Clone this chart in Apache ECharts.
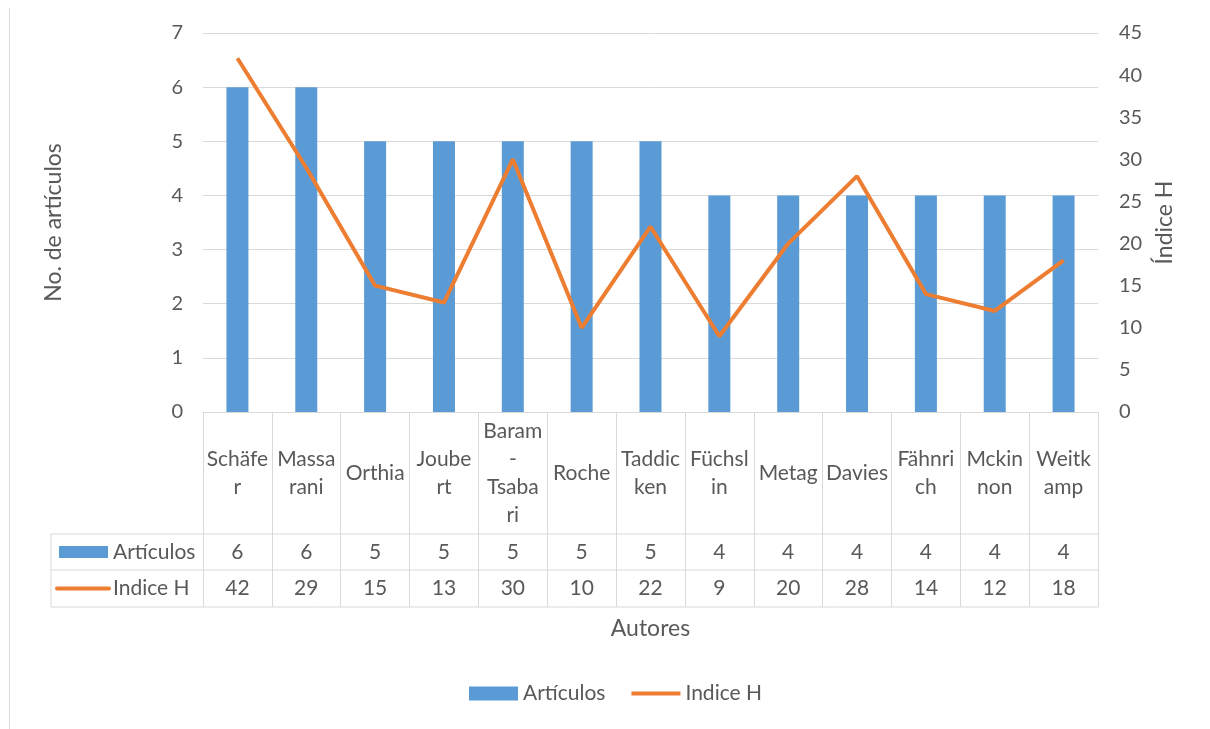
<!DOCTYPE html>
<html>
<head>
<meta charset="utf-8">
<script src="https://cdn.jsdelivr.net/npm/echarts@6/dist/echarts.min.js"></script>
<style>
  html, body { margin: 0; padding: 0; background: #ffffff; }
  #chart { width: 1210px; height: 729px; }
</style>
</head>
<body>
<div id="chart"></div>
<script>
// Authors and their counts
const categories = ['Schäfer', 'Massarani', 'Orthia', 'Joubert', 'Baram-Tsabari', 'Roche', 'Taddicken', 'Füchslin', 'Metag', 'Davies', 'Fähnrich', 'Mckinnon', 'Weitkamp'];
const categoryLines = ['Schäfe\nr', 'Massa\nrani', 'Orthia', 'Joube\nrt', 'Baram\n-\nTsaba\nri', 'Roche', 'Taddic\nken', 'Füchsl\nin', 'Metag', 'Davies', 'Fähnri\nch', 'Mckin\nnon', 'Weitk\namp'];
const articulos = [6, 6, 5, 5, 5, 5, 5, 4, 4, 4, 4, 4, 4];
const indiceH = [42, 29, 15, 13, 30, 10, 22, 9, 20, 28, 14, 12, 18];
const seriesNames = ['Artículos', 'Indice H'];

const TEXT = '#595959';
const GRID = '#d9d9d9';
const BLUE = '#5b9bd5';
const ORANGE = '#ed7d31';
const FONT = 'Lato, "Open Sans", sans-serif';
const TICK_SIZE = 20;
const TABLE_SIZE = 21;
const TITLE_SIZE = 23;

const chart = echarts.init(document.getElementById('chart'));

const option = {
  animation: false,
  backgroundColor: '#ffffff',
  textStyle: { fontFamily: FONT },
  grid: { left: 203, right: 112, top: 33, bottom: 317, containLabel: false },
  legend: {
    data: [
      { name: seriesNames[0], icon: 'rect' },
      { name: seriesNames[1], itemStyle: { opacity: 0 }, lineStyle: { width: 4, color: ORANGE } }
    ],
    left: 469,
    top: 683,
    padding: 0,
    itemWidth: 49,
    itemHeight: 14,
    itemGap: 24,
    textStyle: { fontSize: TABLE_SIZE, color: TEXT, fontFamily: FONT }
  },
  xAxis: {
    type: 'category',
    data: categories,
    boundaryGap: true,
    name: 'Autores',
    nameLocation: 'middle',
    nameGap: 205,
    nameTextStyle: { fontSize: TITLE_SIZE, color: TEXT, fontFamily: FONT, verticalAlign: 'top' },
    axisLine: { lineStyle: { color: GRID, width: 1 } },
    axisTick: { show: true, interval: 0, length: 195, lineStyle: { color: GRID, width: 1 } },
    axisLabel: {
      interval: 0,
      margin: 61,
      verticalAlign: 'middle',
      lineHeight: 28,
      fontSize: TABLE_SIZE,
      color: TEXT,
      fontFamily: FONT,
      formatter: (v, i) => categoryLines[i]
    },
    splitLine: { show: false }
  },
  yAxis: [
    {
      type: 'value',
      min: 0, max: 7, interval: 1,
      name: 'No. de artículos',
      nameLocation: 'middle',
      nameRotate: 90,
      nameGap: 138,
      nameTextStyle: { fontSize: TITLE_SIZE, color: TEXT, fontFamily: FONT },
      axisLine: { show: false },
      axisTick: { show: false },
      axisLabel: { margin: 20, fontSize: TICK_SIZE, color: TEXT, fontFamily: FONT },
      splitLine: { lineStyle: { color: GRID, width: 1 } }
    },
    {
      type: 'value',
      min: 0, max: 45, interval: 5,
      position: 'right',
      name: 'Índice H',
      nameLocation: 'middle',
      nameRotate: 90,
      nameGap: 55,
      nameTextStyle: { fontSize: TITLE_SIZE, color: TEXT, fontFamily: FONT },
      axisLine: { show: false },
      axisTick: { show: false },
      axisLabel: { margin: 21, fontSize: TICK_SIZE, color: TEXT, fontFamily: FONT },
      splitLine: { show: false }
    }
  ],
  series: [
    {
      name: seriesNames[0],
      type: 'bar',
      yAxisIndex: 0,
      data: articulos,
      barWidth: 22,
      itemStyle: { color: BLUE }
    },
    {
      name: seriesNames[1],
      type: 'line',
      yAxisIndex: 1,
      data: indiceH,
      symbol: 'none',
      showSymbol: false,
      lineStyle: { color: ORANGE, width: 4 },
      itemStyle: { color: ORANGE },
      z: 3
    }
  ]
};

chart.setOption(option);

// Data table under the category axis, laid out from the axis scale
function buildTable() {
  const x0 = chart.convertToPixel({ xAxisIndex: 0 }, 0);
  const x1 = chart.convertToPixel({ xAxisIndex: 0 }, 1);
  const band = x1 - x0;
  const zeroY = chart.convertToPixel({ yAxisIndex: 0 }, 0);
  const plotRight = chart.convertToPixel({ xAxisIndex: 0 }, categories.length - 1) + band / 2;
  const headerLeft = 51;
  const rowTops = [zeroY + 122, zeroY + 158, zeroY + 195];
  const lineStyle = { stroke: GRID, lineWidth: 1 };
  const font = TABLE_SIZE + 'px ' + FONT;
  const g = [];

  rowTops.forEach(y => {
    g.push({ type: 'line', silent: true, shape: { x1: headerLeft, y1: y, x2: plotRight, y2: y }, style: lineStyle });
  });
  g.push({ type: 'line', silent: true, shape: { x1: headerLeft, y1: rowTops[0], x2: headerLeft, y2: rowTops[2] }, style: lineStyle });

  const rows = [articulos, indiceH];
  rows.forEach((vals, r) => {
    const cy = (rowTops[r] + rowTops[r + 1]) / 2;
    vals.forEach((v, i) => {
      const cx = chart.convertToPixel({ xAxisIndex: 0 }, i);
      g.push({
        type: 'text', silent: true,
        style: { text: String(v), x: cx, y: cy, align: 'center', verticalAlign: 'middle', font: font, fill: TEXT }
      });
    });
    g.push({
      type: 'text', silent: true,
      style: { text: seriesNames[r], x: 113, y: cy, align: 'left', verticalAlign: 'middle', font: font, fill: TEXT }
    });
  });

  // series keys in the header column
  const cy0 = (rowTops[0] + rowTops[1]) / 2;
  const cy1 = (rowTops[1] + rowTops[2]) / 2;
  g.push({ type: 'rect', silent: true, shape: { x: 59, y: cy0 - 6, width: 49, height: 12 }, style: { fill: BLUE } });
  g.push({ type: 'line', silent: true, shape: { x1: 57, y1: cy1, x2: 109, y2: cy1 }, style: { stroke: ORANGE, lineWidth: 4, lineCap: 'round' } });

  // frame edge on the left
  g.push({ type: 'line', silent: true, shape: { x1: 9.5, y1: 8, x2: 9.5, y2: 729 }, style: lineStyle });

  chart.setOption({ graphic: g });
}

buildTable();
</script>
</body>
</html>
